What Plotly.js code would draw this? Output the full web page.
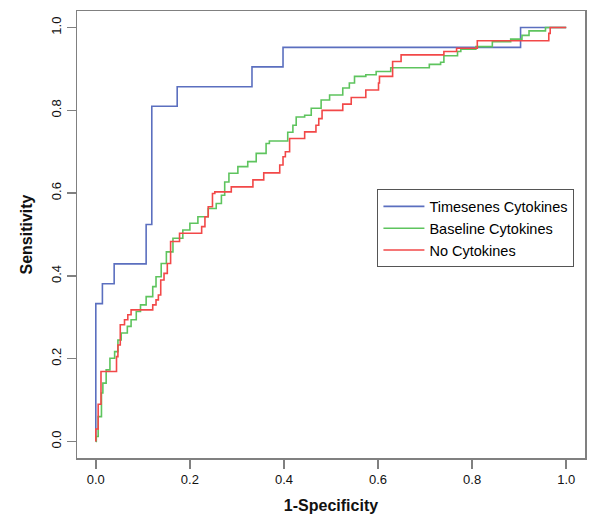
<!DOCTYPE html>
<html>
<head>
<meta charset="utf-8">
<script src="https://cdn.plot.ly/plotly-3.0.1.min.js"></script>
<style>
  html, body { margin: 0; padding: 0; background: #ffffff; }
  #chart { width: 600px; height: 525px; }
</style>
</head>
<body>
<div id="chart"></div>
<script>
// Series names
const seriesNames = ["Timesenes Cytokines", "Baseline Cytokines", "No Cytokines"];

// Timesenes Cytokines ROC (step vertices: x where step occurs, new sensitivity)
const timesFpr = [0, 0, 0.014, 0.039, 0.107, 0.119, 0.173, 0.332, 0.398, 0.903, 1];
const timesTpr = [0, 0.333, 0.381, 0.429, 0.524, 0.810, 0.857, 0.905, 0.952, 1.0, 1.0];

// Baseline Cytokines ROC
const baseFpr = [0, 0.001, 0.005, 0.012, 0.015, 0.022, 0.030, 0.040, 0.047, 0.054, 0.067, 0.075, 0.086, 0.095, 0.107,
  0.121, 0.128, 0.139, 0.150, 0.164, 0.185, 0.200, 0.217, 0.239, 0.256, 0.267, 0.274, 0.283, 0.302, 0.323, 0.341,
  0.362, 0.369, 0.408, 0.419, 0.426, 0.444, 0.458, 0.479, 0.497, 0.525, 0.539, 0.550, 0.574, 0.596, 0.627, 0.709,
  0.733, 0.740, 0.769, 0.776, 0.808, 0.843, 0.882, 0.906, 0.921, 0.956, 1];
const baseTpr = [0, 0.012, 0.060, 0.117, 0.141, 0.173, 0.201, 0.217, 0.245, 0.262, 0.278, 0.294, 0.314, 0.330, 0.350,
  0.374, 0.398, 0.430, 0.458, 0.491, 0.511, 0.527, 0.543, 0.563, 0.575, 0.595, 0.627, 0.648, 0.664, 0.676, 0.696,
  0.720, 0.726, 0.747, 0.764, 0.784, 0.788, 0.805, 0.825, 0.837, 0.854, 0.866, 0.882, 0.886, 0.894, 0.903, 0.911,
  0.916, 0.932, 0.942, 0.948, 0.954, 0.966, 0.972, 0.981, 0.992, 1.0, 1.0];

// No Cytokines ROC
const noFpr = [0, 0, 0.005, 0.011, 0.044, 0.047, 0.052, 0.061, 0.068, 0.075, 0.121, 0.128, 0.133, 0.138, 0.145,
  0.152, 0.159, 0.178, 0.225, 0.232, 0.239, 0.248, 0.253, 0.288, 0.334, 0.357, 0.391, 0.398, 0.403, 0.412, 0.444,
  0.468, 0.474, 0.481, 0.525, 0.543, 0.574, 0.601, 0.603, 0.631, 0.649, 0.740, 0.767, 0.811, 0.963, 0.966, 1];
const noTpr = [0, 0.030, 0.090, 0.169, 0.205, 0.233, 0.282, 0.294, 0.306, 0.318, 0.330, 0.342, 0.354, 0.390, 0.406,
  0.430, 0.483, 0.503, 0.519, 0.543, 0.567, 0.599, 0.603, 0.615, 0.632, 0.649, 0.668, 0.688, 0.700, 0.732, 0.748,
  0.764, 0.780, 0.800, 0.815, 0.831, 0.849, 0.866, 0.882, 0.918, 0.934, 0.942, 0.950, 0.968, 0.986, 1.0, 1.0];

// Axis ticks
const tickValues = [0, 0.2, 0.4, 0.6, 0.8, 1.0];
const tickLabels = ["0.0", "0.2", "0.4", "0.6", "0.8", "1.0"];

const colors = ["#5b6fbf", "#5ec45e", "#f24848"];

const traces = [
  { x: timesFpr, y: timesTpr, name: seriesNames[0], mode: "lines", line: { color: colors[0], width: 1.6, shape: "hv" } },
  { x: baseFpr, y: baseTpr, name: seriesNames[1], mode: "lines", line: { color: colors[1], width: 1.6, shape: "hv" } },
  { x: noFpr, y: noTpr, name: seriesNames[2], mode: "lines", line: { color: colors[2], width: 1.6, shape: "hv" } }
];

const axisCommon = {
  range: [-0.04, 1.04],
  tickvals: tickValues,
  ticktext: tickLabels,
  ticks: "outside",
  ticklen: 9,
  tickwidth: 1.5,
  tickcolor: "#808080",
  showline: true,
  linecolor: "#808080",
  linewidth: 1.5,
  mirror: true,
  showgrid: false,
  zeroline: false,
  tickfont: { family: "Liberation Sans, Arial, sans-serif", size: 13, color: "#111111" }
};

const layout = {
  width: 600,
  height: 525,
  margin: { l: 77, r: 15, t: 11, b: 67 },
  paper_bgcolor: "#ffffff",
  plot_bgcolor: "#ffffff",
  font: { family: "Liberation Sans, Arial, sans-serif", color: "#111111" },
  xaxis: Object.assign({}, axisCommon, {
    title: { text: "<b>1-Specificity</b>", font: { size: 16, color: "#111111" }, standoff: 13 }
  }),
  yaxis: Object.assign({}, axisCommon, {
    tickangle: -90,
    title: { text: "<b>Sensitivity</b>", font: { size: 16, color: "#111111" }, standoff: 12 }
  }),
  showlegend: true,
  legend: {
    x: 0.591, y: 0.514, xanchor: "left", yanchor: "middle",
    bordercolor: "#555555", borderwidth: 1.2, bgcolor: "#ffffff",
    font: { family: "Liberation Sans, Arial, sans-serif", size: 14.5, color: "#000000" },
    itemwidth: 41,
    tracegroupgap: 0
  }
};

Plotly.newPlot("chart", traces, layout, { staticPlot: true, displayModeBar: false });
</script>
</body>
</html>
